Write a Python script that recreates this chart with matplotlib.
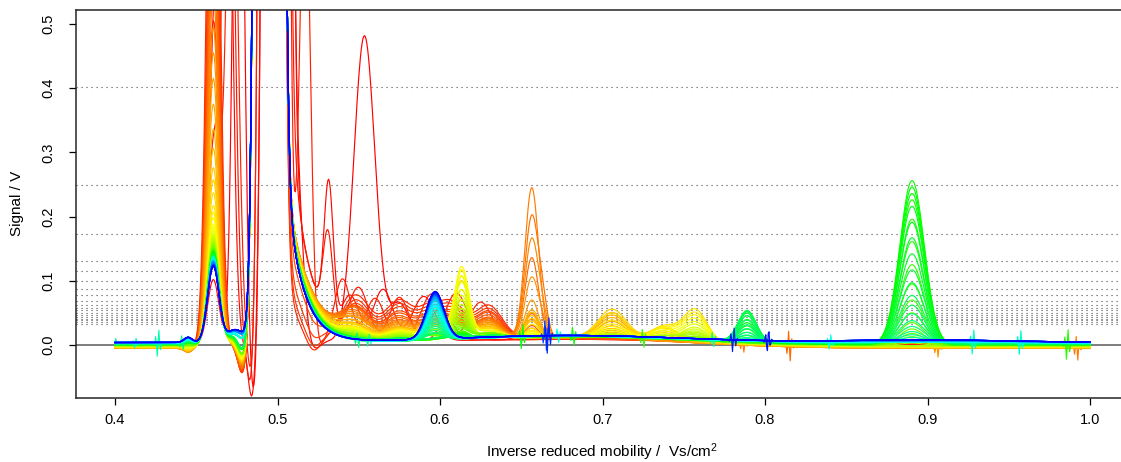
import colorsys
import numpy as np
import matplotlib.pyplot as plt

plt.rcParams['font.family'] = ['Liberation Sans', 'DejaVu Sans']
plt.rcParams['mathtext.default'] = 'regular'

# inverse reduced mobility axis, one spectrum per colour (red -> blue)
x = np.linspace(0.4, 1.0, 1201)
n_spectra = 100
# bands: 4 red | 6 red-orange | 6 orange | 6 orange-yellow | 6 yellow |
#        13 yellow-green | 18 green | 14 green-cyan | 14 cyan-blue | 13 blue

offset = ([0.002, 0.002, 0.001, 0.001] + [0.0, -0.001, -0.002, -0.003, -0.003, -0.004]
          + [-0.004] + [-0.005] * 5 + [-0.005, -0.004, -0.004, -0.004, -0.003, -0.003]
          + [-0.003, -0.003, -0.002, -0.002, -0.002, -0.002]
          + [-0.002] * 3 + [-0.001] * 4 + [0.0] * 6
          + [0.0] * 4 + [0.001] * 8 + [0.002] * 6
          + [0.002] * 4 + [0.003] * 10 + [0.003] * 4 + [0.004] * 10 + [0.004] * 13)
drift = [0.008] * 4 + [0.014] * 6 + [0.016] * 12 + [0.015] * 6 + [0.014] * 13 + [0.013] * 18 + [0.012] * 14 + [0.011] * 27
drift_right = [0.0] * 59 + [0.002] * 14 + [0.003] * 14 + [0.004] * 13
bump_0445 = [0.0] * 4 + [-0.006] * 12 + [-0.005] * 6 + [-0.003] * 6 + [0.0] * 13 + [0.003] * 18 + [0.005] * 14 + [0.007] * 14 + [0.008] * 13

peak_0460 = ([0.1, 0.4, 0.3, 0.5] + [1.2, 1.0, 0.9, 0.8, 0.75, 0.7]
             + [0.65, 0.6, 0.55, 0.5, 0.46, 0.42] + [0.38, 0.34, 0.31, 0.28, 0.26, 0.24]
             + [0.22, 0.21, 0.2, 0.19, 0.185, 0.18]
             + [0.175, 0.172, 0.17, 0.167, 0.165, 0.162, 0.16, 0.158, 0.156, 0.155, 0.153, 0.152, 0.15]
             + [0.15, 0.149, 0.148, 0.147, 0.146, 0.145, 0.145, 0.144, 0.143, 0.142, 0.142, 0.141,
                0.14, 0.14, 0.139, 0.138, 0.138, 0.137]
             + [0.137, 0.136, 0.136, 0.135, 0.135, 0.134, 0.134, 0.133, 0.133, 0.132, 0.132, 0.131, 0.131, 0.13]
             + [0.13, 0.13, 0.129, 0.129, 0.128, 0.128, 0.127, 0.127, 0.126, 0.126, 0.125, 0.125, 0.125, 0.124]
             + [0.122, 0.122, 0.121, 0.121, 0.121, 0.12, 0.12, 0.12, 0.119, 0.119, 0.119, 0.118, 0.118])
shelf_0474 = [0.0] * 4 + [0.005] * 6 + [0.008] * 12 + [0.01] * 6 + [0.012] * 13 + [0.014] * 18 + [0.016] * 14 + [0.018] * 14 + [0.02] * 13
dip_0478 = ([0.0] * 4 + [-0.05, -0.048, -0.046, -0.044, -0.042, -0.04]
            + [-0.04, -0.038, -0.036, -0.035, -0.034, -0.033] + [-0.032, -0.031, -0.03, -0.03, -0.03, -0.03]
            + [-0.03, -0.03, -0.028, -0.028, -0.026, -0.026] + [-0.025] * 13 + [-0.02] * 18
            + [-0.006] * 14 + [-0.002] * 14 + [0.0] * 13)

# reactant ion peak: centre, tail height and tail decay
rip_centre = [0.5, 0.5, 0.498, 0.498] + [0.495] * 96
tail_height = [0.15, 0.4, 0.45, 0.12] + [0.12, 0.14, 0.16, 0.2, 0.22, 0.24] + [0.25] * 90
tail_decay = ([0.007, 0.012, 0.011, 0.007] + [0.007, 0.008, 0.01, 0.012, 0.014, 0.015] + [0.0155] * 6
              + [0.015, 0.015, 0.0145, 0.0145, 0.014, 0.014] + [0.0135, 0.0135, 0.013, 0.013, 0.0128, 0.0128]
              + [0.0125] * 5 + [0.012] * 8 + [0.0115] * 9 + [0.011] * 9 + [0.0105] * 14 + [0.0102] * 14 + [0.01] * 13)
undershoot_0522 = [-0.02, 0.0, 0.0, -0.025] + [-0.02, -0.018, -0.015, -0.01, -0.005, 0.0] + [0.0] * 90

hump_0548 = ([0.0] * 4 + [0.075, 0.068, 0.062, 0.056, 0.052, 0.048] + [0.044, 0.041, 0.038, 0.035, 0.032, 0.03]
             + [0.027, 0.025, 0.023, 0.022, 0.021, 0.02] + [0.019, 0.018, 0.017, 0.016, 0.016, 0.015]
             + [0.015, 0.014, 0.013, 0.012, 0.011, 0.01, 0.009, 0.009, 0.008, 0.007, 0.006, 0.005, 0.004]
             + [0.003] * 18 + [0.0] * 41)
hump_0575 = ([0.0] * 4 + [0.065, 0.06, 0.056, 0.05, 0.046, 0.042] + [0.038, 0.036, 0.034, 0.032, 0.03, 0.028]
             + [0.026, 0.025, 0.024, 0.023, 0.022, 0.021] + [0.02, 0.019, 0.018, 0.018, 0.017, 0.016]
             + [0.016, 0.015, 0.014, 0.013, 0.012, 0.011, 0.01, 0.009, 0.008, 0.007, 0.006, 0.006, 0.005]
             + [0.004] * 18 + [0.0] * 41)
hump_0592 = ([0.0] * 4 + [0.03, 0.028, 0.026, 0.024, 0.022, 0.02] + [0.02, 0.019, 0.018, 0.017, 0.016, 0.015]
             + [0.012] * 6 + [0.01] * 6 + [0.006] * 13 + [0.0] * 59)
hump_0606 = ([0.0] * 4 + [0.06, 0.056, 0.052, 0.048, 0.045, 0.042] + [0.04, 0.038, 0.036, 0.034, 0.032, 0.03]
             + [0.028, 0.027, 0.026, 0.025, 0.024, 0.023] + [0.02, 0.02, 0.019, 0.018, 0.017, 0.016]
             + [0.015, 0.014, 0.013, 0.012, 0.011, 0.01, 0.009, 0.008, 0.007, 0.006, 0.006, 0.005, 0.005]
             + [0.004] * 18 + [0.0] * 41)
hump_0630 = ([0.0] * 4 + [0.05, 0.046, 0.043, 0.042, 0.038, 0.034] + [0.034, 0.032, 0.03, 0.029, 0.027, 0.025]
             + [0.024, 0.022, 0.02, 0.019, 0.017, 0.016] + [0.013] * 6 + [0.008] * 13 + [0.003] * 18 + [0.0] * 41)

peak_0597 = ([0.0] * 59
             + [0.01, 0.012, 0.015, 0.018, 0.02, 0.023, 0.026, 0.029, 0.032, 0.035, 0.038, 0.041, 0.044, 0.047]
             + [0.05, 0.052, 0.054, 0.056, 0.058, 0.06, 0.061, 0.062, 0.063, 0.064, 0.065, 0.066, 0.067, 0.068]
             + [0.068, 0.069, 0.069, 0.07, 0.07, 0.071, 0.071, 0.072, 0.072, 0.073, 0.073, 0.074, 0.074])
peak_0613 = ([0.0] * 16 + [0.01, 0.02, 0.03, 0.045, 0.06, 0.075] + [0.085, 0.095, 0.1, 0.095, 0.087, 0.078]
             + [0.068, 0.06, 0.053, 0.046, 0.04, 0.035, 0.03, 0.026, 0.022, 0.019, 0.016, 0.014, 0.012]
             + [0.011, 0.01, 0.009, 0.008, 0.007, 0.006, 0.005, 0.004, 0.004, 0.003, 0.003, 0.002,
                0.002, 0.002, 0.001, 0.001, 0.001, 0.001]
             + [0.0] * 41)
peak_0656 = ([0.0] * 4 + [0.0, 0.01, 0.015, 0.02, 0.03, 0.04] + [0.125, 0.19, 0.235, 0.155, 0.095, 0.06]
             + [0.045, 0.04, 0.035, 0.03, 0.025, 0.02] + [0.015, 0.012, 0.01, 0.008, 0.006, 0.005] + [0.0] * 74)
shoulder_0663 = [0.0] * 10 + [0.0, 0.04, 0.0, 0.025, 0.015, 0.0] + [0.0] * 84
peak_0706 = ([0.0] * 10 + [0.005, 0.008, 0.01, 0.013, 0.016, 0.02] + [0.027, 0.032, 0.036, 0.04, 0.044, 0.038]
             + [0.028, 0.022, 0.017, 0.013, 0.01, 0.007] + [0.005] * 6 + [0.0] * 66)
peak_0738 = ([0.0] * 16 + [0.005, 0.008, 0.012, 0.015, 0.018, 0.02] + [0.022, 0.02, 0.017, 0.014, 0.011, 0.008]
             + [0.006] * 6 + [0.0] * 66)
peak_0757 = ([0.0] * 22 + [0.05, 0.045, 0.04, 0.035, 0.03, 0.026]
             + [0.022, 0.019, 0.016, 0.013, 0.011, 0.009, 0.007, 0.006, 0.005, 0.004, 0.003, 0.002, 0.002]
             + [0.0] * 59)
peak_0789 = ([0.0] * 46 + [0.005, 0.01, 0.015, 0.02, 0.025, 0.03, 0.035, 0.04, 0.044, 0.047, 0.048, 0.046]
             + [0.04, 0.033, 0.026, 0.02, 0.014, 0.009, 0.005, 0.003] + [0.0] * 34)
peak_0890 = ([0.0] * 34
             + [0.004, 0.006, 0.009, 0.013, 0.018, 0.025, 0.035, 0.05, 0.07, 0.095, 0.125, 0.16, 0.195, 0.225, 0.255]
             + [0.245, 0.235, 0.215, 0.19, 0.165, 0.14, 0.115, 0.095, 0.075, 0.06, 0.045, 0.034, 0.025, 0.017,
                0.011, 0.007]
             + [0.0] * 35)

# extra peaks of the first (red) spectra: spectrum, centre, width, height
red_peaks = [
    (0, 0.476, 0.003, 1.2), (0, 0.4855, 0.0025, -0.1), (0, 0.512, 0.0035, 0.2), (0, 0.5535, 0.0065, 0.478),
    (0, 0.575, 0.006, 0.06), (0, 0.6, 0.007, 0.05),
    (1, 0.468, 0.0035, 1.2), (1, 0.4845, 0.0025, -0.09), (1, 0.5315, 0.0028, 0.21), (1, 0.545, 0.005, 0.06),
    (1, 0.565, 0.006, 0.08), (1, 0.59, 0.007, 0.07),
    (2, 0.47, 0.0035, 1.0), (2, 0.484, 0.0025, -0.08), (2, 0.531, 0.003, 0.135), (2, 0.55, 0.006, 0.08),
    (2, 0.575, 0.006, 0.07), (2, 0.61, 0.007, 0.075),
    (3, 0.472, 0.0035, 0.9), (3, 0.4845, 0.0025, -0.07), (3, 0.517, 0.0032, 0.75), (3, 0.54, 0.005, 0.1),
    (3, 0.56, 0.006, 0.07), (3, 0.595, 0.007, 0.075), (3, 0.625, 0.007, 0.06),
]
# short noise bursts: spectrum, position, height
spikes = [
    (66, 0.4, 0.008), (66, 0.4265, 0.022), (68, 0.4125, 0.008), (62, 0.4415, -0.012),
    (60, 0.5495, -0.012), (64, 0.556, 0.01),
    (50, 0.6505, 0.02), (95, 0.6665, 0.03), (92, 0.665, -0.025), (70, 0.6726, -0.012), (48, 0.682, -0.015),
    (44, 0.725, -0.015), (66, 0.768, -0.012), (96, 0.7805, 0.02), (12, 0.7865, -0.012), (97, 0.8018, 0.02),
    (10, 0.815, -0.025), (72, 0.84, 0.012),
    (14, 0.906, -0.015), (68, 0.928, 0.02), (70, 0.957, 0.02), (46, 0.986, 0.025), (12, 0.992, -0.02),
]

# dotted reference levels
levels = [0.402, 0.249, 0.173, 0.131, 0.1155, 0.1, 0.0876, 0.0782, 0.0694, 0.0627, 0.058, 0.0539,
          0.0503, 0.0472, 0.044, 0.041, 0.0383, 0.0358, 0.0335]


def gauss(c, s):
    return np.exp(-0.5 * ((x - c) / s) ** 2)


shared = [
    (0.445, 0.0025, bump_0445), (0.4605, 0.0035, peak_0460), (0.474, 0.005, shelf_0474),
    (0.4785, 0.003, dip_0478), (0.522, 0.004, undershoot_0522),
    (0.548, 0.009, hump_0548), (0.575, 0.009, hump_0575), (0.592, 0.006, hump_0592),
    (0.606, 0.009, hump_0606), (0.630, 0.008, hump_0630),
    (0.597, 0.0055, peak_0597), (0.6135, 0.0042, peak_0613), (0.6565, 0.0042, peak_0656),
    (0.6635, 0.003, shoulder_0663), (0.706, 0.0085, peak_0706), (0.738, 0.008, peak_0738),
    (0.757, 0.0072, peak_0757), (0.789, 0.0055, peak_0789), (0.8905, 0.0075, peak_0890),
    (0.68, 0.07, drift), (0.9, 0.05, drift_right),
]

fig = plt.figure(figsize=(11.21, 4.62), dpi=100)
ax = fig.add_axes([76 / 1121, 64 / 462, 1053 / 1121, 388.4 / 462])

for lv in levels:
    ax.axhline(lv, color='0.3', lw=0.8, linestyle=(0, (1, 3.5)), zorder=1)
ax.axhline(0, color='0.45', lw=1.3, zorder=1)

for i in range(n_spectra):
    y = np.full_like(x, offset[i])
    for c, s, heights in shared:
        y += heights[i] * gauss(c, s)
    c = rip_centre[i]
    y += 20 * np.exp(-0.5 * ((x - c) / np.where(x < c, 0.004, 0.0038)) ** 2)
    y += tail_height[i] * np.where(x >= 0.505, np.exp(-(x - 0.505) / tail_decay[i]), gauss(0.505, 0.004))
    for k, c, s, h in red_peaks:
        if k == i:
            y += h * gauss(c, s)
    for k, x0, h in spikes:
        if k == i:
            y += h * np.sin(2 * np.pi * (x - x0) / 0.002) * gauss(x0, 0.0012)
    col = colorsys.hsv_to_rgb(0.67 * i / (n_spectra - 1), 1, 1)
    ax.plot(x, y, color=col, lw=0.85, zorder=2)

ax.set_xlim(0.376, 1.024)
ax.set_ylim(-0.0824, 0.5224)
ax.set_xticks([0.4, 0.5, 0.6, 0.7, 0.8, 0.9, 1.0])
ax.set_xticklabels(['0.4', '0.5', '0.6', '0.7', '0.8', '0.9', '1.0'])
ax.set_yticks([0.0, 0.1, 0.2, 0.3, 0.4, 0.5])
ax.set_yticklabels(['0.0', '0.1', '0.2', '0.3', '0.4', '0.5'], rotation=90, va='center')
ax.tick_params(length=5, width=0.9, labelsize=10.5)
ax.tick_params(axis='x', pad=6)
ax.tick_params(axis='y', pad=10)
for sp in ax.spines.values():
    sp.set_linewidth(1.1)
    sp.set_color('0.15')

ax.set_xlabel('Inverse reduced mobility /  Vs/cm$^2$', fontsize=11)
ax.xaxis.set_label_coords(0.5, -54 / 388.4)
ax.xaxis.label.set_va('center')
ax.set_ylabel('Signal / V', fontsize=11)
ax.yaxis.set_label_coords(-59 / 1053, 0.5)
ax.yaxis.label.set_va('center')

fig.savefig('out.png', dpi=100)
